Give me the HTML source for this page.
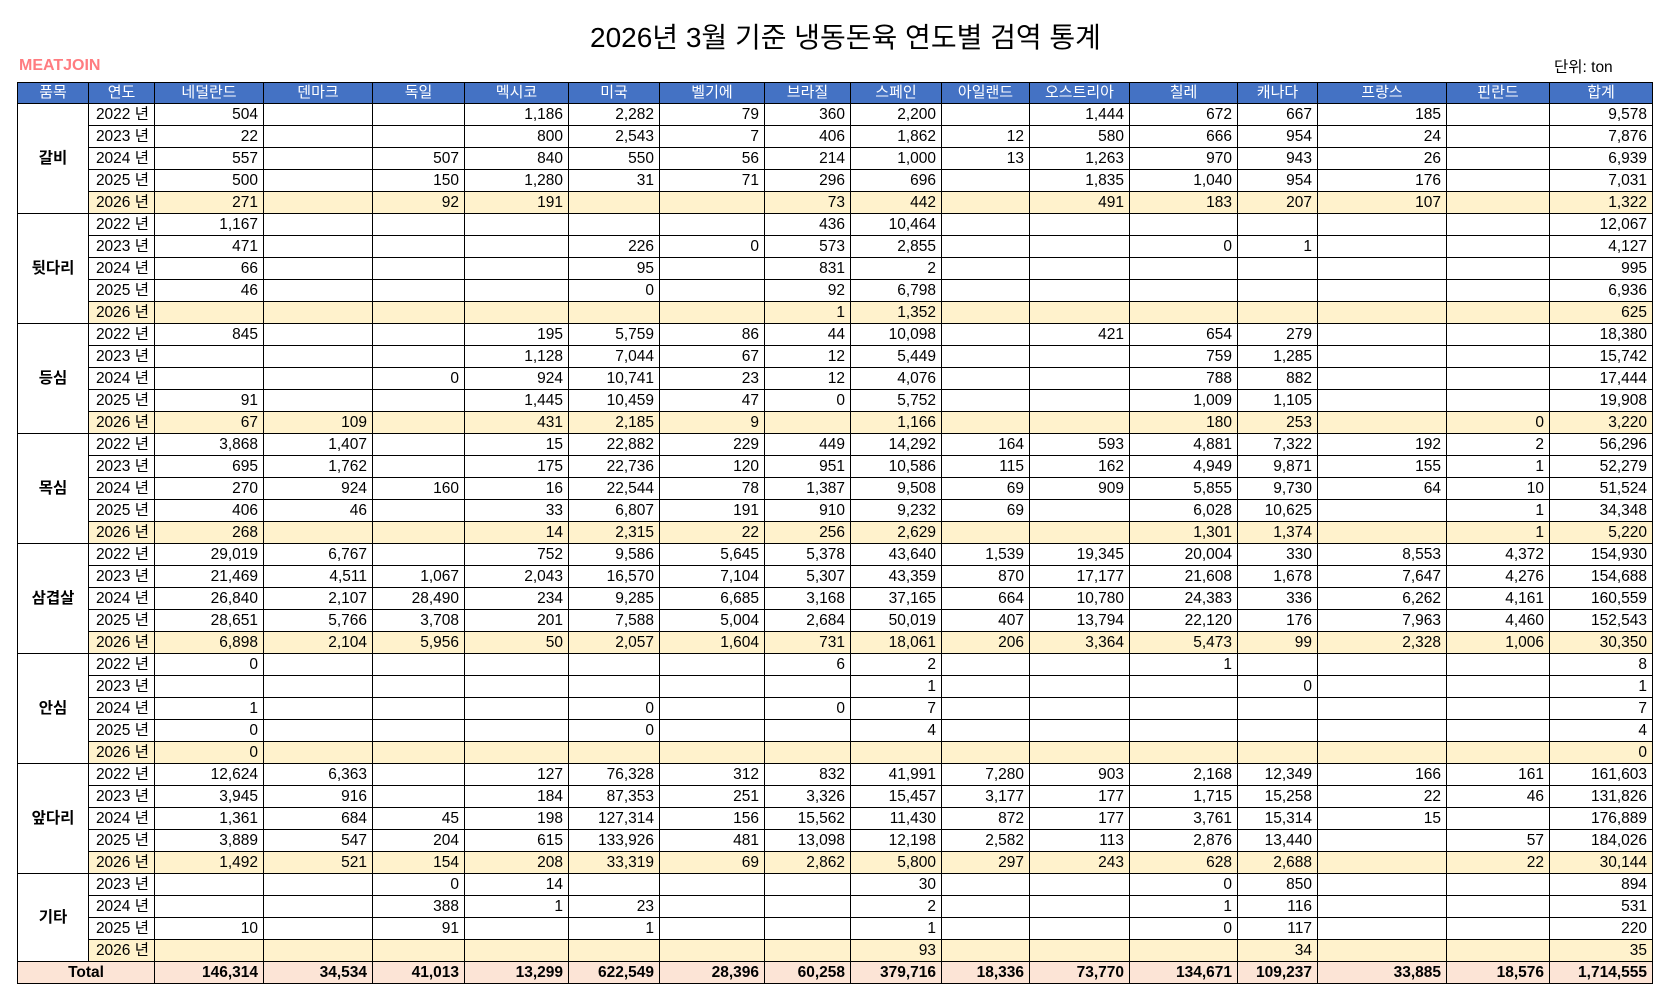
<!DOCTYPE html>
<html><head><meta charset="utf-8"><style>
body{margin:0;background:#fff;width:1674px;height:1006px;overflow:hidden;font-family:"Liberation Sans","Noto Sans CJK KR",sans-serif;color:#000}
#title{position:absolute;left:590px;width:500px;top:21px;text-align:center;font-size:28px;line-height:34px;white-space:nowrap}
#logo{position:absolute;left:19px;top:56px;font-size:16px;font-weight:bold;color:#ff7c80;line-height:20px}
#unit{position:absolute;left:1554px;top:58px;font-size:15.5px;line-height:20px}
table{position:absolute;left:17px;top:82px;border-collapse:collapse;table-layout:fixed;width:1636px;font-size:15.5px}
td,th{border:1px solid #000;padding:0 5px 0 0;height:21px;line-height:20px;text-align:right;white-space:nowrap;overflow:hidden}
th{background:#4472c4;color:#fff;font-weight:normal;text-align:center;padding:0;height:20px;font-size:15px}
td.g{text-align:center;font-weight:bold;padding:0}
tr.y td{background:#fff2cc}
tr.y td.g{background:#fff}
tr.t td{background:#fce4d6;font-weight:bold}
td.tl{text-align:center;padding:0}
</style></head><body>
<div id="title">2026년 3월 기준 냉동돈육 연도별 검역 통계</div>
<div id="logo">MEATJOIN</div>
<div id="unit">단위: ton</div>
<table>
<colgroup><col style="width:71px"><col style="width:66px"><col style="width:109px"><col style="width:109px"><col style="width:92px"><col style="width:104px"><col style="width:91px"><col style="width:105px"><col style="width:86px"><col style="width:91px"><col style="width:88px"><col style="width:100px"><col style="width:108px"><col style="width:80px"><col style="width:129px"><col style="width:103px"><col style="width:103px"></colgroup>
<tr><th>품목</th><th>연도</th><th>네덜란드</th><th>덴마크</th><th>독일</th><th>멕시코</th><th>미국</th><th>벨기에</th><th>브라질</th><th>스페인</th><th>아일랜드</th><th>오스트리아</th><th>칠레</th><th>캐나다</th><th>프랑스</th><th>핀란드</th><th>합계</th></tr>
<tr><td class="g" rowspan="5">갈비</td><td>2022 년</td><td>504</td><td></td><td></td><td>1,186</td><td>2,282</td><td>79</td><td>360</td><td>2,200</td><td></td><td>1,444</td><td>672</td><td>667</td><td>185</td><td></td><td>9,578</td></tr>
<tr><td>2023 년</td><td>22</td><td></td><td></td><td>800</td><td>2,543</td><td>7</td><td>406</td><td>1,862</td><td>12</td><td>580</td><td>666</td><td>954</td><td>24</td><td></td><td>7,876</td></tr>
<tr><td>2024 년</td><td>557</td><td></td><td>507</td><td>840</td><td>550</td><td>56</td><td>214</td><td>1,000</td><td>13</td><td>1,263</td><td>970</td><td>943</td><td>26</td><td></td><td>6,939</td></tr>
<tr><td>2025 년</td><td>500</td><td></td><td>150</td><td>1,280</td><td>31</td><td>71</td><td>296</td><td>696</td><td></td><td>1,835</td><td>1,040</td><td>954</td><td>176</td><td></td><td>7,031</td></tr>
<tr class="y"><td>2026 년</td><td>271</td><td></td><td>92</td><td>191</td><td></td><td></td><td>73</td><td>442</td><td></td><td>491</td><td>183</td><td>207</td><td>107</td><td></td><td>1,322</td></tr>
<tr><td class="g" rowspan="5">뒷다리</td><td>2022 년</td><td>1,167</td><td></td><td></td><td></td><td></td><td></td><td>436</td><td>10,464</td><td></td><td></td><td></td><td></td><td></td><td></td><td>12,067</td></tr>
<tr><td>2023 년</td><td>471</td><td></td><td></td><td></td><td>226</td><td>0</td><td>573</td><td>2,855</td><td></td><td></td><td>0</td><td>1</td><td></td><td></td><td>4,127</td></tr>
<tr><td>2024 년</td><td>66</td><td></td><td></td><td></td><td>95</td><td></td><td>831</td><td>2</td><td></td><td></td><td></td><td></td><td></td><td></td><td>995</td></tr>
<tr><td>2025 년</td><td>46</td><td></td><td></td><td></td><td>0</td><td></td><td>92</td><td>6,798</td><td></td><td></td><td></td><td></td><td></td><td></td><td>6,936</td></tr>
<tr class="y"><td>2026 년</td><td></td><td></td><td></td><td></td><td></td><td></td><td>1</td><td>1,352</td><td></td><td></td><td></td><td></td><td></td><td></td><td>625</td></tr>
<tr><td class="g" rowspan="5">등심</td><td>2022 년</td><td>845</td><td></td><td></td><td>195</td><td>5,759</td><td>86</td><td>44</td><td>10,098</td><td></td><td>421</td><td>654</td><td>279</td><td></td><td></td><td>18,380</td></tr>
<tr><td>2023 년</td><td></td><td></td><td></td><td>1,128</td><td>7,044</td><td>67</td><td>12</td><td>5,449</td><td></td><td></td><td>759</td><td>1,285</td><td></td><td></td><td>15,742</td></tr>
<tr><td>2024 년</td><td></td><td></td><td>0</td><td>924</td><td>10,741</td><td>23</td><td>12</td><td>4,076</td><td></td><td></td><td>788</td><td>882</td><td></td><td></td><td>17,444</td></tr>
<tr><td>2025 년</td><td>91</td><td></td><td></td><td>1,445</td><td>10,459</td><td>47</td><td>0</td><td>5,752</td><td></td><td></td><td>1,009</td><td>1,105</td><td></td><td></td><td>19,908</td></tr>
<tr class="y"><td>2026 년</td><td>67</td><td>109</td><td></td><td>431</td><td>2,185</td><td>9</td><td></td><td>1,166</td><td></td><td></td><td>180</td><td>253</td><td></td><td>0</td><td>3,220</td></tr>
<tr><td class="g" rowspan="5">목심</td><td>2022 년</td><td>3,868</td><td>1,407</td><td></td><td>15</td><td>22,882</td><td>229</td><td>449</td><td>14,292</td><td>164</td><td>593</td><td>4,881</td><td>7,322</td><td>192</td><td>2</td><td>56,296</td></tr>
<tr><td>2023 년</td><td>695</td><td>1,762</td><td></td><td>175</td><td>22,736</td><td>120</td><td>951</td><td>10,586</td><td>115</td><td>162</td><td>4,949</td><td>9,871</td><td>155</td><td>1</td><td>52,279</td></tr>
<tr><td>2024 년</td><td>270</td><td>924</td><td>160</td><td>16</td><td>22,544</td><td>78</td><td>1,387</td><td>9,508</td><td>69</td><td>909</td><td>5,855</td><td>9,730</td><td>64</td><td>10</td><td>51,524</td></tr>
<tr><td>2025 년</td><td>406</td><td>46</td><td></td><td>33</td><td>6,807</td><td>191</td><td>910</td><td>9,232</td><td>69</td><td></td><td>6,028</td><td>10,625</td><td></td><td>1</td><td>34,348</td></tr>
<tr class="y"><td>2026 년</td><td>268</td><td></td><td></td><td>14</td><td>2,315</td><td>22</td><td>256</td><td>2,629</td><td></td><td></td><td>1,301</td><td>1,374</td><td></td><td>1</td><td>5,220</td></tr>
<tr><td class="g" rowspan="5">삼겹살</td><td>2022 년</td><td>29,019</td><td>6,767</td><td></td><td>752</td><td>9,586</td><td>5,645</td><td>5,378</td><td>43,640</td><td>1,539</td><td>19,345</td><td>20,004</td><td>330</td><td>8,553</td><td>4,372</td><td>154,930</td></tr>
<tr><td>2023 년</td><td>21,469</td><td>4,511</td><td>1,067</td><td>2,043</td><td>16,570</td><td>7,104</td><td>5,307</td><td>43,359</td><td>870</td><td>17,177</td><td>21,608</td><td>1,678</td><td>7,647</td><td>4,276</td><td>154,688</td></tr>
<tr><td>2024 년</td><td>26,840</td><td>2,107</td><td>28,490</td><td>234</td><td>9,285</td><td>6,685</td><td>3,168</td><td>37,165</td><td>664</td><td>10,780</td><td>24,383</td><td>336</td><td>6,262</td><td>4,161</td><td>160,559</td></tr>
<tr><td>2025 년</td><td>28,651</td><td>5,766</td><td>3,708</td><td>201</td><td>7,588</td><td>5,004</td><td>2,684</td><td>50,019</td><td>407</td><td>13,794</td><td>22,120</td><td>176</td><td>7,963</td><td>4,460</td><td>152,543</td></tr>
<tr class="y"><td>2026 년</td><td>6,898</td><td>2,104</td><td>5,956</td><td>50</td><td>2,057</td><td>1,604</td><td>731</td><td>18,061</td><td>206</td><td>3,364</td><td>5,473</td><td>99</td><td>2,328</td><td>1,006</td><td>30,350</td></tr>
<tr><td class="g" rowspan="5">안심</td><td>2022 년</td><td>0</td><td></td><td></td><td></td><td></td><td></td><td>6</td><td>2</td><td></td><td></td><td>1</td><td></td><td></td><td></td><td>8</td></tr>
<tr><td>2023 년</td><td></td><td></td><td></td><td></td><td></td><td></td><td></td><td>1</td><td></td><td></td><td></td><td>0</td><td></td><td></td><td>1</td></tr>
<tr><td>2024 년</td><td>1</td><td></td><td></td><td></td><td>0</td><td></td><td>0</td><td>7</td><td></td><td></td><td></td><td></td><td></td><td></td><td>7</td></tr>
<tr><td>2025 년</td><td>0</td><td></td><td></td><td></td><td>0</td><td></td><td></td><td>4</td><td></td><td></td><td></td><td></td><td></td><td></td><td>4</td></tr>
<tr class="y"><td>2026 년</td><td>0</td><td></td><td></td><td></td><td></td><td></td><td></td><td></td><td></td><td></td><td></td><td></td><td></td><td></td><td>0</td></tr>
<tr><td class="g" rowspan="5">앞다리</td><td>2022 년</td><td>12,624</td><td>6,363</td><td></td><td>127</td><td>76,328</td><td>312</td><td>832</td><td>41,991</td><td>7,280</td><td>903</td><td>2,168</td><td>12,349</td><td>166</td><td>161</td><td>161,603</td></tr>
<tr><td>2023 년</td><td>3,945</td><td>916</td><td></td><td>184</td><td>87,353</td><td>251</td><td>3,326</td><td>15,457</td><td>3,177</td><td>177</td><td>1,715</td><td>15,258</td><td>22</td><td>46</td><td>131,826</td></tr>
<tr><td>2024 년</td><td>1,361</td><td>684</td><td>45</td><td>198</td><td>127,314</td><td>156</td><td>15,562</td><td>11,430</td><td>872</td><td>177</td><td>3,761</td><td>15,314</td><td>15</td><td></td><td>176,889</td></tr>
<tr><td>2025 년</td><td>3,889</td><td>547</td><td>204</td><td>615</td><td>133,926</td><td>481</td><td>13,098</td><td>12,198</td><td>2,582</td><td>113</td><td>2,876</td><td>13,440</td><td></td><td>57</td><td>184,026</td></tr>
<tr class="y"><td>2026 년</td><td>1,492</td><td>521</td><td>154</td><td>208</td><td>33,319</td><td>69</td><td>2,862</td><td>5,800</td><td>297</td><td>243</td><td>628</td><td>2,688</td><td></td><td>22</td><td>30,144</td></tr>
<tr><td class="g" rowspan="4">기타</td><td>2023 년</td><td></td><td></td><td>0</td><td>14</td><td></td><td></td><td></td><td>30</td><td></td><td></td><td>0</td><td>850</td><td></td><td></td><td>894</td></tr>
<tr><td>2024 년</td><td></td><td></td><td>388</td><td>1</td><td>23</td><td></td><td></td><td>2</td><td></td><td></td><td>1</td><td>116</td><td></td><td></td><td>531</td></tr>
<tr><td>2025 년</td><td>10</td><td></td><td>91</td><td></td><td>1</td><td></td><td></td><td>1</td><td></td><td></td><td>0</td><td>117</td><td></td><td></td><td>220</td></tr>
<tr class="y"><td>2026 년</td><td></td><td></td><td></td><td></td><td></td><td></td><td></td><td>93</td><td></td><td></td><td></td><td>34</td><td></td><td></td><td>35</td></tr>
<tr class="t"><td class="tl" colspan="2">Total</td><td>146,314</td><td>34,534</td><td>41,013</td><td>13,299</td><td>622,549</td><td>28,396</td><td>60,258</td><td>379,716</td><td>18,336</td><td>73,770</td><td>134,671</td><td>109,237</td><td>33,885</td><td>18,576</td><td>1,714,555</td></tr>
</table>
</body></html>
